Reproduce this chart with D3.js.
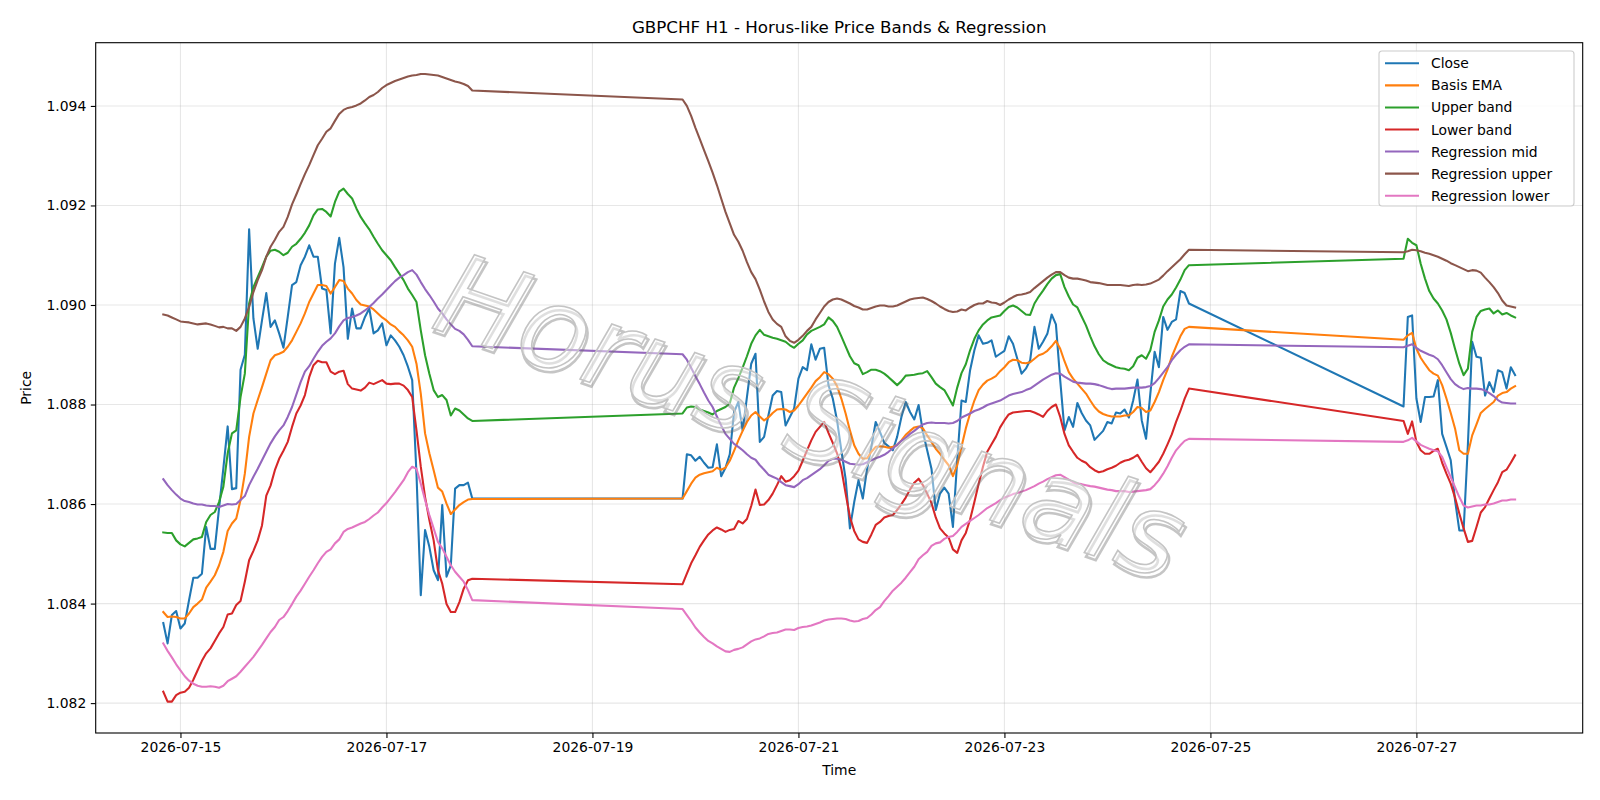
<!DOCTYPE html>
<html>
<head>
<meta charset="utf-8">
<script src="https://cdn.jsdelivr.net/npm/d3@7/dist/d3.min.js"></script>
<style>
body { margin:0; background:#fff; }
text { font-family: "DejaVu Sans", sans-serif; }
</style>
</head>
<body>
<div id="chart"></div>
<script>
// hourly bars, three trading blocks (weekends missing)
var segStarts = ["2026-07-14T20:00:00Z", "2026-07-19T21:00:00Z", "2026-07-26T21:00:00Z"];
var segLengths = [73, 119, 27];

var close = [
1.08361,1.08320,1.08377,1.08385,1.08350,1.08360,1.08407,1.08452,1.08452,1.08460,
1.08554,1.08510,1.08510,1.08592,1.08672,1.08756,1.08630,1.08632,1.08870,1.08900,
1.09152,1.08973,1.08912,1.08969,1.09024,1.08956,1.08969,1.08943,1.08914,1.08976,
1.09040,1.09046,1.09080,1.09097,1.09120,1.09097,1.09097,1.09033,1.09030,1.08943,
1.09083,1.09135,1.09076,1.08932,1.08993,1.08953,1.08953,1.08976,1.08993,1.08943,
1.08949,1.08963,1.08919,1.08939,1.08929,1.08916,1.08899,1.08876,1.08849,1.08660,
1.08417,1.08548,1.08514,1.08467,1.08447,1.08598,1.08454,1.08477,1.08631,1.08638,
1.08638,1.08643,1.08611,
1.08611,1.08700,1.08698,1.08687,1.08695,1.08683,1.08673,1.08674,1.08720,1.08656,
1.08673,1.08700,1.08785,1.08805,1.08748,1.08815,1.08882,1.08902,1.08725,1.08735,
1.08778,1.08818,1.08827,1.08825,1.08758,1.08775,1.08792,1.08852,1.08875,1.08869,
1.08921,1.08890,1.08912,1.08914,1.08839,1.08812,1.08768,1.08708,1.08650,1.08551,
1.08604,1.08648,1.08611,1.08671,1.08715,1.08765,1.08745,1.08723,1.08716,1.08708,
1.08735,1.08775,1.08805,1.08785,1.08770,1.08799,1.08745,1.08708,1.08671,1.08588,
1.08621,1.08633,1.08621,1.08554,1.08688,1.08808,1.08805,1.08869,1.08909,1.08939,
1.08922,1.08924,1.08929,1.08896,1.08902,1.08908,1.08937,1.08922,1.08892,1.08862,
1.08872,1.08889,1.08956,1.08912,1.08926,1.08942,1.08981,1.08961,1.08849,1.08748,
1.08775,1.08755,1.08803,1.08783,1.08768,1.08758,1.08729,1.08738,1.08747,1.08765,
1.08762,1.08784,1.08782,1.08790,1.08774,1.08808,1.08850,1.08768,1.08731,1.08822,
1.08906,1.08875,1.08976,1.08950,1.08966,1.08971,1.09028,1.09024,1.09003,
1.08796,1.08976,1.08979,1.08812,1.08765,1.08815,1.08815,1.08816,1.08849,1.08741,
1.08715,1.08688,1.08608,1.08547,1.08547,1.08720,1.08926,1.08896,1.08894,1.08818,
1.08845,1.08825,1.08869,1.08865,1.08832,1.08875,1.08859
];

var basisEma = [
1.08383,1.08373,1.08374,1.08373,1.08370,1.08370,1.08380,1.08393,1.08400,1.08408,
1.08432,1.08444,1.08457,1.08477,1.08504,1.08546,1.08561,1.08571,1.08608,1.08661,
1.08735,1.08782,1.08809,1.08835,1.08862,1.08889,1.08899,1.08902,1.08906,1.08916,
1.08929,1.08946,1.08963,1.08983,1.09006,1.09023,1.09040,1.09040,1.09038,1.09023,
1.09036,1.09050,1.09048,1.09033,1.09023,1.09010,1.09001,1.08999,1.08997,1.08991,
1.08983,1.08975,1.08969,1.08961,1.08956,1.08947,1.08939,1.08929,1.08916,1.08882,
1.08822,1.08742,1.08702,1.08668,1.08633,1.08625,1.08601,1.08580,1.08589,1.08598,
1.08604,1.08609,1.08610,
1.08611,1.08626,1.08641,1.08653,1.08659,1.08662,1.08664,1.08666,1.08673,1.08669,
1.08673,1.08687,1.08707,1.08728,1.08747,1.08765,1.08778,1.08785,1.08776,1.08768,
1.08774,1.08783,1.08790,1.08791,1.08790,1.08785,1.08788,1.08798,1.08810,1.08822,
1.08834,1.08847,1.08855,1.08865,1.08861,1.08852,1.08837,1.08812,1.08782,1.08748,
1.08718,1.08701,1.08691,1.08692,1.08705,1.08715,1.08716,1.08715,1.08713,1.08715,
1.08719,1.08728,1.08739,1.08747,1.08754,1.08756,1.08752,1.08738,1.08725,1.08711,
1.08701,1.08689,1.08678,1.08656,1.08678,1.08715,1.08752,1.08782,1.08808,1.08829,
1.08840,1.08848,1.08852,1.08857,1.08867,1.08875,1.08885,1.08890,1.08889,1.08884,
1.08883,1.08885,1.08892,1.08899,1.08902,1.08908,1.08917,1.08928,1.08912,1.08887,
1.08865,1.08852,1.08842,1.08832,1.08822,1.08808,1.08795,1.08786,1.08781,1.08778,
1.08776,1.08776,1.08776,1.08778,1.08778,1.08785,1.08795,1.08793,1.08785,1.08788,
1.08805,1.08825,1.08849,1.08870,1.08896,1.08917,1.08937,1.08952,1.08956,
1.08930,1.08939,1.08944,1.08912,1.08894,1.08881,1.08869,1.08862,1.08858,1.08839,
1.08812,1.08783,1.08752,1.08708,1.08701,1.08701,1.08738,1.08760,1.08783,1.08791,
1.08798,1.08805,1.08818,1.08823,1.08825,1.08832,1.08837
];

var upperBand = [
1.08543,1.08542,1.08542,1.08527,1.08519,1.08515,1.08522,1.08529,1.08531,1.08534,
1.08564,1.08578,1.08584,1.08604,1.08635,1.08702,1.08742,1.08748,1.08815,1.08862,
1.09003,1.09036,1.09056,1.09076,1.09097,1.09109,1.09111,1.09107,1.09100,1.09105,
1.09117,1.09123,1.09133,1.09145,1.09160,1.09180,1.09192,1.09193,1.09187,1.09178,
1.09207,1.09228,1.09234,1.09223,1.09214,1.09194,1.09177,1.09164,1.09152,1.09137,
1.09123,1.09110,1.09100,1.09090,1.09076,1.09063,1.09050,1.09033,1.09020,1.09006,
1.08949,1.08899,1.08862,1.08829,1.08815,1.08819,1.08809,1.08778,1.08792,1.08788,
1.08780,1.08772,1.08767,
1.08782,1.08794,1.08796,1.08795,1.08790,1.08787,1.08784,1.08780,1.08787,1.08791,
1.08795,1.08802,1.08834,1.08853,1.08874,1.08897,1.08922,1.08939,1.08950,1.08940,
1.08937,1.08934,1.08932,1.08929,1.08926,1.08919,1.08914,1.08922,1.08929,1.08941,
1.08948,1.08952,1.08956,1.08961,1.08975,1.08968,1.08956,1.08937,1.08917,1.08897,
1.08883,1.08879,1.08861,1.08865,1.08870,1.08870,1.08867,1.08862,1.08855,1.08847,
1.08839,1.08847,1.08858,1.08859,1.08860,1.08862,1.08863,1.08867,1.08855,1.08842,
1.08835,1.08829,1.08814,1.08798,1.08834,1.08863,1.08881,1.08909,1.08932,1.08949,
1.08961,1.08969,1.08975,1.08977,1.08979,1.08988,1.08996,1.08999,1.08995,1.08988,
1.08981,1.08980,1.09003,1.09017,1.09029,1.09042,1.09053,1.09060,1.09062,1.09036,
1.09017,1.09001,1.08995,1.08977,1.08959,1.08937,1.08917,1.08901,1.08889,1.08883,
1.08879,1.08875,1.08873,1.08872,1.08869,1.08877,1.08894,1.08899,1.08892,1.08909,
1.08946,1.08969,1.08997,1.09011,1.09021,1.09035,1.09051,1.09070,1.09080,
1.09093,1.09133,1.09125,1.09120,1.09083,1.09053,1.09028,1.09013,1.09003,1.08989,
1.08971,1.08944,1.08912,1.08882,1.08859,1.08872,1.08946,1.08976,1.08988,1.08991,
1.08993,1.08983,1.08989,1.08981,1.08984,1.08979,1.08975
];

var lowerBand = [
1.08223,1.08203,1.08203,1.08216,1.08221,1.08223,1.08231,1.08247,1.08266,1.08285,
1.08300,1.08310,1.08325,1.08340,1.08353,1.08378,1.08380,1.08397,1.08405,1.08444,
1.08487,1.08506,1.08527,1.08557,1.08617,1.08637,1.08668,1.08691,1.08707,1.08725,
1.08755,1.08782,1.08798,1.08819,1.08855,1.08879,1.08888,1.08885,1.08885,1.08866,
1.08861,1.08866,1.08868,1.08841,1.08832,1.08830,1.08828,1.08834,1.08844,1.08841,
1.08845,1.08849,1.08842,1.08841,1.08842,1.08842,1.08838,1.08829,1.08815,1.08748,
1.08675,1.08614,1.08568,1.08527,1.08467,1.08440,1.08399,1.08383,1.08383,1.08403,
1.08430,1.08447,1.08450,
1.08439,1.08460,1.08481,1.08497,1.08514,1.08527,1.08539,1.08547,1.08553,1.08549,
1.08544,1.08548,1.08550,1.08566,1.08561,1.08570,1.08596,1.08629,1.08598,1.08599,
1.08608,1.08621,1.08638,1.08656,1.08645,1.08648,1.08656,1.08667,1.08687,1.08708,
1.08728,1.08745,1.08755,1.08765,1.08743,1.08723,1.08702,1.08671,1.08621,1.08574,
1.08546,1.08529,1.08524,1.08522,1.08539,1.08558,1.08564,1.08573,1.08576,1.08578,
1.08588,1.08600,1.08613,1.08629,1.08643,1.08651,1.08638,1.08621,1.08602,1.08573,
1.08551,1.08541,1.08533,1.08509,1.08502,1.08527,1.08542,1.08569,1.08604,1.08641,
1.08675,1.08705,1.08720,1.08735,1.08754,1.08768,1.08780,1.08784,1.08785,1.08786,
1.08787,1.08787,1.08784,1.08780,1.08775,1.08787,1.08795,1.08800,1.08775,1.08741,
1.08718,1.08705,1.08693,1.08687,1.08683,1.08674,1.08668,1.08664,1.08666,1.08670,
1.08673,1.08677,1.08683,1.08687,1.08689,1.08693,1.08699,1.08685,1.08672,1.08664,
1.08674,1.08685,1.08701,1.08720,1.08740,1.08765,1.08787,1.08812,1.08832,
1.08767,1.08741,1.08766,1.08725,1.08708,1.08701,1.08701,1.08707,1.08711,1.08683,
1.08661,1.08641,1.08613,1.08581,1.08551,1.08524,1.08526,1.08554,1.08583,1.08594,
1.08611,1.08628,1.08644,1.08664,1.08669,1.08683,1.08698
];

var regMid = [
1.08650,1.08638,1.08628,1.08619,1.08611,1.08606,1.08604,1.08601,1.08599,1.08599,
1.08597,1.08596,1.08596,1.08594,1.08597,1.08600,1.08599,1.08600,1.08608,1.08616,
1.08638,1.08655,1.08671,1.08688,1.08705,1.08722,1.08736,1.08748,1.08758,1.08775,
1.08795,1.08820,1.08845,1.08866,1.08877,1.08892,1.08906,1.08918,1.08926,1.08933,
1.08943,1.08957,1.08969,1.08974,1.08976,1.08979,1.08983,1.08989,1.08996,1.09004,
1.09013,1.09021,1.09030,1.09039,1.09048,1.09055,1.09060,1.09066,1.09070,1.09061,
1.09046,1.09032,1.09020,1.09007,1.08993,1.08983,1.08971,1.08961,1.08952,1.08948,
1.08941,1.08930,1.08917,
1.08901,1.08890,1.08874,1.08857,1.08841,1.08824,1.08808,1.08795,1.08776,1.08758,
1.08741,1.08731,1.08721,1.08715,1.08708,1.08700,1.08693,1.08689,1.08678,1.08669,
1.08659,1.08655,1.08651,1.08644,1.08638,1.08636,1.08634,1.08640,1.08648,1.08652,
1.08658,1.08664,1.08670,1.08678,1.08687,1.08691,1.08691,1.08689,1.08685,1.08681,
1.08680,1.08679,1.08680,1.08684,1.08688,1.08692,1.08695,1.08699,1.08705,1.08712,
1.08719,1.08727,1.08733,1.08741,1.08747,1.08754,1.08760,1.08763,1.08764,1.08763,
1.08763,1.08763,1.08762,1.08763,1.08767,1.08774,1.08778,1.08782,1.08787,1.08790,
1.08794,1.08799,1.08802,1.08805,1.08808,1.08813,1.08818,1.08821,1.08823,1.08825,
1.08829,1.08832,1.08838,1.08844,1.08850,1.08855,1.08860,1.08863,1.08862,1.08856,
1.08851,1.08846,1.08844,1.08843,1.08842,1.08842,1.08841,1.08839,1.08836,1.08833,
1.08831,1.08832,1.08832,1.08832,1.08833,1.08834,1.08834,1.08834,1.08835,1.08837,
1.08843,1.08853,1.08864,1.08875,1.08889,1.08900,1.08909,1.08916,1.08921,
1.08915,1.08918,1.08921,1.08914,1.08908,1.08904,1.08900,1.08897,1.08891,1.08879,
1.08865,1.08851,1.08841,1.08835,1.08831,1.08833,1.08832,1.08832,1.08831,1.08828,
1.08823,1.08817,1.08809,1.08804,1.08803,1.08802,1.08802
];

var regUpper = [
1.08981,1.08979,1.08975,1.08971,1.08967,1.08966,1.08965,1.08963,1.08961,1.08962,
1.08963,1.08961,1.08958,1.08955,1.08956,1.08953,1.08953,1.08948,1.08956,1.08973,
1.08996,1.09026,1.09050,1.09070,1.09097,1.09117,1.09131,1.09147,1.09157,1.09177,
1.09202,1.09222,1.09243,1.09263,1.09281,1.09301,1.09321,1.09334,1.09348,1.09355,
1.09370,1.09384,1.09392,1.09396,1.09398,1.09401,1.09405,1.09411,1.09418,1.09422,
1.09428,1.09436,1.09442,1.09446,1.09450,1.09453,1.09456,1.09459,1.09461,1.09462,
1.09464,1.09464,1.09463,1.09462,1.09461,1.09458,1.09455,1.09452,1.09449,1.09447,
1.09444,1.09440,1.09431,
1.09413,1.09400,1.09380,1.09356,1.09334,1.09311,1.09289,1.09266,1.09241,1.09214,
1.09187,1.09164,1.09141,1.09127,1.09109,1.09086,1.09066,1.09052,1.09031,1.09007,
1.08986,1.08971,1.08962,1.08956,1.08937,1.08928,1.08924,1.08930,1.08938,1.08948,
1.08956,1.08971,1.08984,1.08997,1.09006,1.09011,1.09013,1.09011,1.09007,1.09003,
1.08998,1.08995,1.08991,1.08991,1.08994,1.08997,1.08999,1.08999,1.08997,1.08997,
1.08999,1.09003,1.09007,1.09011,1.09013,1.09014,1.09015,1.09012,1.09008,1.09003,
1.08997,1.08992,1.08988,1.08986,1.08987,1.08991,1.08989,1.08995,1.09000,1.09003,
1.09003,1.09008,1.09005,1.09004,1.09000,1.09005,1.09011,1.09016,1.09020,1.09021,
1.09023,1.09026,1.09034,1.09041,1.09048,1.09055,1.09061,1.09066,1.09066,1.09060,
1.09055,1.09053,1.09053,1.09051,1.09049,1.09046,1.09045,1.09044,1.09042,1.09040,
1.09040,1.09040,1.09040,1.09039,1.09038,1.09040,1.09041,1.09040,1.09041,1.09043,
1.09047,1.09051,1.09059,1.09068,1.09076,1.09084,1.09092,1.09102,1.09111,
1.09106,1.09108,1.09111,1.09110,1.09108,1.09105,1.09103,1.09100,1.09097,1.09093,
1.09089,1.09084,1.09080,1.09076,1.09072,1.09068,1.09070,1.09069,1.09065,1.09055,
1.09046,1.09036,1.09024,1.09009,1.08999,1.08997,1.08995
];

var regLower = [
1.08320,1.08305,1.08292,1.08278,1.08266,1.08254,1.08245,1.08239,1.08235,1.08233,
1.08233,1.08234,1.08233,1.08231,1.08235,1.08244,1.08249,1.08254,1.08263,1.08273,
1.08283,1.08293,1.08305,1.08317,1.08330,1.08343,1.08353,1.08367,1.08373,1.08385,
1.08399,1.08414,1.08426,1.08440,1.08454,1.08467,1.08481,1.08494,1.08504,1.08509,
1.08521,1.08529,1.08544,1.08550,1.08553,1.08557,1.08561,1.08564,1.08570,1.08577,
1.08583,1.08593,1.08602,1.08613,1.08624,1.08636,1.08648,1.08664,1.08675,1.08671,
1.08641,1.08608,1.08578,1.08551,1.08524,1.08511,1.08494,1.08477,1.08464,1.08454,
1.08444,1.08427,1.08407,
1.08389,1.08377,1.08365,1.08352,1.08342,1.08333,1.08325,1.08320,1.08314,1.08309,
1.08304,1.08303,1.08307,1.08309,1.08312,1.08318,1.08324,1.08328,1.08330,1.08334,
1.08339,1.08341,1.08342,1.08345,1.08348,1.08348,1.08347,1.08351,1.08353,1.08354,
1.08356,1.08359,1.08362,1.08366,1.08368,1.08369,1.08370,1.08370,1.08369,1.08366,
1.08364,1.08365,1.08369,1.08371,1.08378,1.08387,1.08393,1.08405,1.08415,1.08426,
1.08434,1.08442,1.08452,1.08463,1.08474,1.08489,1.08497,1.08504,1.08516,1.08521,
1.08523,1.08530,1.08534,1.08536,1.08544,1.08554,1.08560,1.08566,1.08572,1.08578,
1.08585,1.08592,1.08597,1.08602,1.08608,1.08613,1.08616,1.08620,1.08622,1.08625,
1.08628,1.08632,1.08636,1.08641,1.08645,1.08650,1.08654,1.08658,1.08659,1.08654,
1.08649,1.08644,1.08641,1.08640,1.08638,1.08636,1.08635,1.08633,1.08631,1.08629,
1.08628,1.08626,1.08626,1.08626,1.08624,1.08625,1.08626,1.08627,1.08628,1.08630,
1.08638,1.08648,1.08661,1.08676,1.08693,1.08708,1.08718,1.08727,1.08731,
1.08725,1.08728,1.08733,1.08726,1.08719,1.08715,1.08711,1.08708,1.08706,1.08695,
1.08674,1.08654,1.08634,1.08614,1.08597,1.08593,1.08595,1.08597,1.08597,1.08599,
1.08599,1.08601,1.08604,1.08607,1.08607,1.08609,1.08609
];

var seriesNames = ["Close", "Basis EMA", "Upper band", "Lower band", "Regression mid", "Regression upper", "Regression lower"];
var seriesColors = ["#1f77b4", "#ff7f0e", "#2ca02c", "#d62728", "#9467bd", "#8c564b", "#e377c2"];
var xTickDates = ["2026-07-15", "2026-07-17", "2026-07-19", "2026-07-21", "2026-07-23", "2026-07-25", "2026-07-27"];
var yTicks = [1.082, 1.084, 1.086, 1.088, 1.090, 1.092, 1.094];

function chart(){
var w = 1600;
var h = 800;
var left = 95.7, right = 1582.7, top = 42.7, bottom = 733;

// timestamps of every bar
var times = [];
segStarts.forEach(function(s, i){
  var t0 = new Date(s).getTime();
  for (var k = 0; k < segLengths[i]; k++) times.push(new Date(t0 + k * 3600000));
});

var allSeries = [close, basisEma, upperBand, lowerBand, regMid, regUpper, regLower];

// matplotlib-like 5% margins
var tExt = d3.extent(times);
var tPad = (tExt[1] - tExt[0]) * 0.05;
var yMin = d3.min(allSeries, function(s){ return d3.min(s); });
var yMax = d3.max(allSeries, function(s){ return d3.max(s); });
var yPad = (yMax - yMin) * 0.05;

var x = d3.scaleUtc()
  .domain([new Date(+tExt[0] - tPad), new Date(+tExt[1] + tPad)])
  .range([left, right]);
var y = d3.scaleLinear()
  .domain([yMin - yPad, yMax + yPad])
  .range([bottom, top]);

var svg = d3.select("#chart")
  .append("svg")
  .attr("width", w)
  .attr("height", h)
  .style("display", "block");

svg.append("rect").attr("width", w).attr("height", h).attr("fill", "#fff");

var xTicks = xTickDates.map(function(d){ return new Date(d + "T00:00:00Z"); });

// grid
svg.append("g").selectAll("line")
  .data(xTicks).enter().append("line")
  .attr("x1", function(d){ return x(d); }).attr("x2", function(d){ return x(d); })
  .attr("y1", top).attr("y2", bottom)
  .attr("stroke", "#b0b0b0").attr("stroke-opacity", 0.3).attr("stroke-width", 1.1);
svg.append("g").selectAll("line")
  .data(yTicks).enter().append("line")
  .attr("x1", left).attr("x2", right)
  .attr("y1", function(d){ return y(d); }).attr("y2", function(d){ return y(d); })
  .attr("stroke", "#b0b0b0").attr("stroke-opacity", 0.3).attr("stroke-width", 1.1);

// lines
var line = d3.line()
  .x(function(d, i){ return x(times[i]); })
  .y(function(d){ return y(d); });

svg.append("g").selectAll("path")
  .data(allSeries).enter().append("path")
  .attr("d", line)
  .attr("fill", "none")
  .attr("stroke", function(d, i){ return seriesColors[i]; })
  .attr("stroke-width", 2.08)
  .attr("stroke-linejoin", "round")
  .attr("stroke-linecap", "square");

// watermark
var wm = svg.append("g")
  .attr("transform", "translate(798,454) rotate(19)");
wm.append("text")
  .attr("text-anchor", "middle")
  .attr("x", 3).attr("y", 3.5)
  .attr("font-size", 114)
  .attr("font-style", "italic")
  .attr("fill", "none")
  .attr("stroke", "#6f6f6f")
  .attr("stroke-opacity", 0.4)
  .attr("stroke-width", 2.6)
  .text("Horus Signals");
wm.append("text")
  .attr("text-anchor", "middle")
  .attr("font-size", 114)
  .attr("font-style", "italic")
  .attr("fill", "#fff")
  .attr("fill-opacity", 0.45)
  .attr("stroke", "#c4c4c4")
  .attr("stroke-width", 1.6)
  .text("Horus Signals");

// frame
svg.append("rect")
  .attr("x", left).attr("y", top)
  .attr("width", right - left).attr("height", bottom - top)
  .attr("fill", "none").attr("stroke", "#000").attr("stroke-width", 1.1);

// x axis
var xAxis = d3.axisBottom(x)
  .tickValues(xTicks)
  .tickFormat(d3.utcFormat("%Y-%m-%d"))
  .tickSize(4.9)
  .tickPadding(4.5);
var gx = svg.append("g").attr("transform", "translate(0," + bottom + ")").call(xAxis);
gx.select(".domain").remove();
gx.selectAll("line").attr("stroke", "#000").attr("stroke-width", 1.1);
gx.selectAll("text").attr("font-size", 13.9).attr("fill", "#000")
  .attr("font-family", "DejaVu Sans");

var yAxis = d3.axisLeft(y)
  .tickValues(yTicks)
  .tickFormat(d3.format(".3f"))
  .tickSize(4.9)
  .tickPadding(4.5);
var gy = svg.append("g").attr("transform", "translate(" + left + ",0)").call(yAxis);
gy.select(".domain").remove();
gy.selectAll("line").attr("stroke", "#000").attr("stroke-width", 1.1);
gy.selectAll("text").attr("font-size", 13.9).attr("fill", "#000")
  .attr("font-family", "DejaVu Sans");

// labels and title
svg.append("text")
  .attr("x", (left + right) / 2).attr("y", 775)
  .attr("text-anchor", "middle").attr("font-size", 13.9)
  .text("Time");
svg.append("text")
  .attr("transform", "translate(30.5," + ((top + bottom) / 2) + ") rotate(-90)")
  .attr("text-anchor", "middle").attr("font-size", 13.9)
  .text("Price");
svg.append("text")
  .attr("x", (left + right) / 2).attr("y", 33)
  .attr("text-anchor", "middle").attr("font-size", 16.7)
  .text("GBPCHF H1 - Horus-like Price Bands & Regression");

// legend
var lg = svg.append("g").attr("transform", "translate(1379,51)");
lg.append("rect")
  .attr("width", 195).attr("height", 155)
  .attr("rx", 3).attr("ry", 3)
  .attr("fill", "#fff").attr("fill-opacity", 0.8)
  .attr("stroke", "#cccccc").attr("stroke-width", 1.1);
var item = lg.selectAll("g.item")
  .data(seriesNames).enter().append("g")
  .attr("class", "item")
  .attr("transform", function(d, i){ return "translate(0," + (12.3 + i * 22.07) + ")"; });
item.append("line")
  .attr("x1", 6).attr("x2", 40)
  .attr("stroke", function(d, i){ return seriesColors[i]; })
  .attr("stroke-width", 2.08);
item.append("text")
  .attr("x", 52).attr("y", 5)
  .attr("font-size", 13.9)
  .text(function(d){ return d; });
}

chart();
</script>
</body>
</html>
